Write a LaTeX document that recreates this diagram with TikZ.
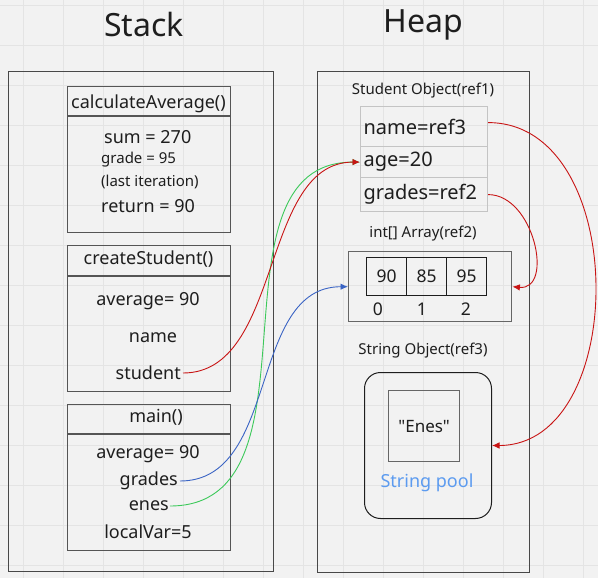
\documentclass[tikz,border=0pt]{standalone}
\usepackage{fontspec}
\setmainfont{Noto Sans}[Ligatures=TeXOff]
\usetikzlibrary{arrows.meta}
\definecolor{bg}{HTML}{F2F2F2}
\definecolor{gridc}{HTML}{E4E4E4}
\definecolor{ink}{HTML}{1E1E1E}
\definecolor{framec}{HTML}{555555}
\definecolor{fieldc}{HTML}{C4C4C4}
\definecolor{redc}{HTML}{C81414}
\definecolor{greenc}{HTML}{3CC95A}
\definecolor{bluec}{HTML}{3A64C4}
\definecolor{poolc}{HTML}{5C9BF0}
\tikzset{
  frame/.style={draw=framec, line width=1.2pt, minimum width=163, minimum height=146, anchor=north west, inner sep=0pt},
  outer/.style={draw=framec!85!black, line width=1.1pt, anchor=north west, inner sep=0pt},
  title/.style={text=ink, font=\fontsize{32}{38}\selectfont, inner sep=0pt},
  txt/.style={text=ink, font=\fontsize{18}{22}\selectfont, inner sep=0pt},
  small/.style={text=ink, font=\fontsize{15}{18}\selectfont, inner sep=0pt},
  field/.style={draw=fieldc, line width=1.2pt, anchor=north west, minimum width=127, text width=121pt, inner xsep=3pt, inner ysep=0pt, align=left, text=ink, font=\fontsize{20}{24}\selectfont},
  cell/.style={draw=ink, line width=1.2pt, anchor=north west, minimum width=40, minimum height=38, inner sep=0pt, text=ink, font=\fontsize{17.5}{21}\selectfont},
  conn/.style={line width=0.9pt, -{Latex[length=7.5pt,width=6.5pt]}}
}
\begin{document}
\begin{tikzpicture}[x=1pt,y=-1pt]
\useasboundingbox (0,0) rectangle (598,578);
\fill[bg] (0,0) rectangle (598,578);
\foreach \x in {23,63,...,583} \draw[gridc, line width=0.8pt] (\x,0) -- (\x,578);
\foreach \y in {5,45,...,565} \draw[gridc, line width=0.8pt] (0,\y) -- (598,\y);

% titles
\node[title] (stackT) at (144,25) {Stack};
\node[title] (heapT) at (423,25) {Heap};

% outer boxes
\node[outer, minimum width=265, minimum height=500] (stack) at (8,71) {};
\node[outer, minimum width=212, minimum height=501] (heap) at (317,71) {};

% calculateAverage frame
\node[frame] (calc) at (67,86) {};
\draw[framec, line width=1.2pt] ([yshift=-30pt]calc.north west) -- ([yshift=-30pt]calc.north east);
\node[txt] (calcT) at (148.5,104) {calculateAverage()};
\node[txt, anchor=west] (sum) at (104,137) {sum = 270};
\node[small, anchor=west] (grade) at (101,160) {grade = 95};
\node[small, anchor=west] (last) at (101,182) {(last iteration)};
\node[txt, anchor=west] (ret) at (101,206) {return = 90};

% createStudent frame
\node[frame] (cs) at (67,245) {};
\draw[framec, line width=1.2pt] ([yshift=-31pt]cs.north west) -- ([yshift=-31pt]cs.north east);
\node[txt] (csT) at (148.5,259) {createStudent()};
\node[txt] (csavg) at (148,301) {average= 90};
\node[txt] (csname) at (153,338) {name};
\node[txt, anchor=east] (student) at (181,373) {student};

% main frame
\node[frame] (mainf) at (67,404) {};
\draw[framec, line width=1.2pt] ([yshift=-30pt]mainf.north west) -- ([yshift=-30pt]mainf.north east);
\node[txt] (mainT) at (156,417) {main()};
\node[txt] (mavg) at (148,454) {average= 90};
\node[txt, anchor=east] (mgrades) at (178,481) {grades};
\node[txt, anchor=east] (enes) at (169,506) {enes};
\node[txt] (lv) at (148,532) {localVar=5};

% Student object
\node[small] (soT) at (423,91) {Student Object(ref1)};
\node[field, minimum height=40] (fname) at (360,106) {name=ref3};
\node[field, minimum height=31] (fage) at (360,146) {age=20};
\node[field, minimum height=34] (fgrades) at (360,177) {grades=ref2};

% int array
\node[small] (arrT) at (423,234) {int[] Array(ref2)};
\node[draw=framec!90, line width=1.4pt, anchor=north west, minimum width=163, minimum height=70, inner sep=0pt] (arr) at (348,251) {};
\node[cell] (c0) at (366,257) {90};
\node[cell] (c1) at (406,257) {85};
\node[cell] (c2) at (446,257) {95};
\node[txt, font=\fontsize{17.5}{21}\selectfont] (i0) at (378,309) {0};
\node[txt, font=\fontsize{17.5}{21}\selectfont] (i1) at (422,309) {1};
\node[txt, font=\fontsize{17.5}{21}\selectfont] (i2) at (466,309) {2};

% String object
\node[small] (strT) at (423,351) {String Object(ref3)};
\node[draw=ink, line width=1pt, rounded corners=16pt, anchor=north west, minimum width=127, minimum height=146, inner sep=0pt] (pool) at (364,372) {};
\node[draw=framec!90, line width=1.3pt, anchor=north west, minimum width=71, minimum height=71, inner sep=0pt] (enesbox) at (388,390) {};
\node[txt, font=\fontsize{17}{20}\selectfont] (enesT) at (enesbox.center) {"Enes"};
\node[txt, text=poolc] (poolT) at (427,483) {String pool};

% connectors
\draw[conn, greenc] ([xshift=1pt]enes.east) .. controls +(160,0) and +(-160,0) .. (fage.west);
\draw[conn, bluec] ([xshift=2pt]mgrades.east) .. controls +(100,0) and +(-100,0) .. (arr.west);
\draw[conn, redc] ([xshift=2pt]student.east) .. controls +(100,0) and +(-100,0) .. (fage.west);
\draw[conn, redc] ([yshift=4pt]fname.east) .. controls +(142,0) and +(138,0) .. (pool.east);
\draw[conn, redc] (fgrades.east) .. controls +(46,0) and +(42,4) .. (arr.east);
\end{tikzpicture}
\end{document}
